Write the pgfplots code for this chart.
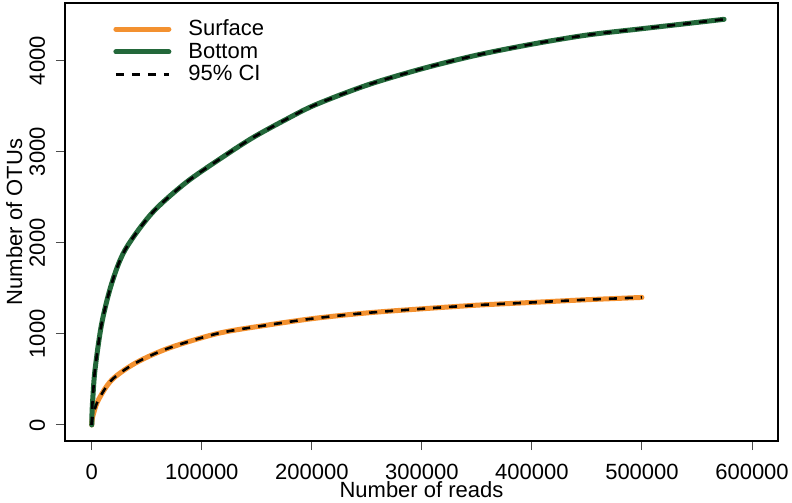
\documentclass[border=0pt]{standalone}
\usepackage{fontspec}
\setmainfont{Liberation Sans}
\usepackage{pgfplots}
\usepackage{pgfplotstable}
\pgfplotsset{compat=1.18}
\definecolor{surforange}{HTML}{F39130}
\definecolor{botgreen}{HTML}{23683A}

\pgfplotstableread{
x y
0 0
300 50
1500 120
6000 274
18170 494
39350 677
69600 842
115060 1006
160500 1098
202900 1171
250000 1230
300000 1275
350000 1315
400000 1345
450000 1375
500000 1400
}\surface

\pgfplotstableread{
x y
0 0
300 150
1000 300
3000 610
9090 1116
18170 1555
30260 1921
54500 2323
84780 2653
115060 2909
145400 3147
175650 3348
202900 3513
250000 3730
300000 3910
350000 4060
400000 4180
450000 4280
500000 4350
540000 4405
574600 4453
}\bottom

\begin{document}
\begin{tikzpicture}
\begin{axis}[
  scale only axis, width=356.5pt, height=219pt,
  xmin=-24300, xmax=623600, ymin=-176, ymax=4632,
  xtick={0,100000,...,600000}, ytick={0,1000,...,4000},
  scaled ticks=false,
  /pgf/number format/.cd, fixed, 1000 sep={}, assume math mode=true, /pgfplots/.cd,
  tick align=outside, xtick pos=lower, ytick pos=left,
  major tick length=4.5pt,
  tick style={black!70, line width=0.5pt},
  axis line style={line width=0.8pt},
  ticklabel style={font=\fontsize{11}{13}\selectfont},
  label style={font=\fontsize{11}{13}\selectfont},
  xticklabel style={anchor=base, yshift=-15pt},
  yticklabel style={rotate=90, anchor=base, yshift=5.5pt},
  xlabel={Number of reads}, ylabel={Number of OTUs},
  xlabel style={at={(axis description cs:0.5,-0.1279)}, anchor=base},
  ylabel style={at={(axis description cs:-0.0603,0.5)}, anchor=base},
  legend style={at={(axis description cs:0.0673,0.963)}, anchor=north west,
    draw=none, fill=none, inner sep=0pt, row sep=2.2pt,
    font=\fontsize{11}{13}\selectfont,
    nodes={inner xsep=8.5pt, inner ysep=0pt}},
  legend cell align=left,
  legend image code/.code={\draw[#1] (0pt,0pt) -- (26.5pt,0pt);},
]
\addplot[surforange, line width=2.5pt, line cap=round, smooth] table {\surface};
\addlegendentry{Surface}
\addplot[botgreen, line width=2.5pt, line cap=round, smooth] table {\bottom};
\addlegendentry{Bottom}
\addplot[black, line width=1.3pt, dash pattern=on 4pt off 4pt, smooth] table {\surface};
\addlegendentry{95\% CI}
\addplot[black, line width=1.3pt, dash pattern=on 4pt off 4pt, smooth, forget plot] table {\bottom};
\coordinate (bl) at (rel axis cs:0,0);
\coordinate (tr) at (rel axis cs:1,1);
\end{axis}
\pgfresetboundingbox
\path ([shift={(-32.5pt,-31pt)}]bl) rectangle ([shift={(7pt,1.5pt)}]tr);
\end{tikzpicture}
\end{document}
